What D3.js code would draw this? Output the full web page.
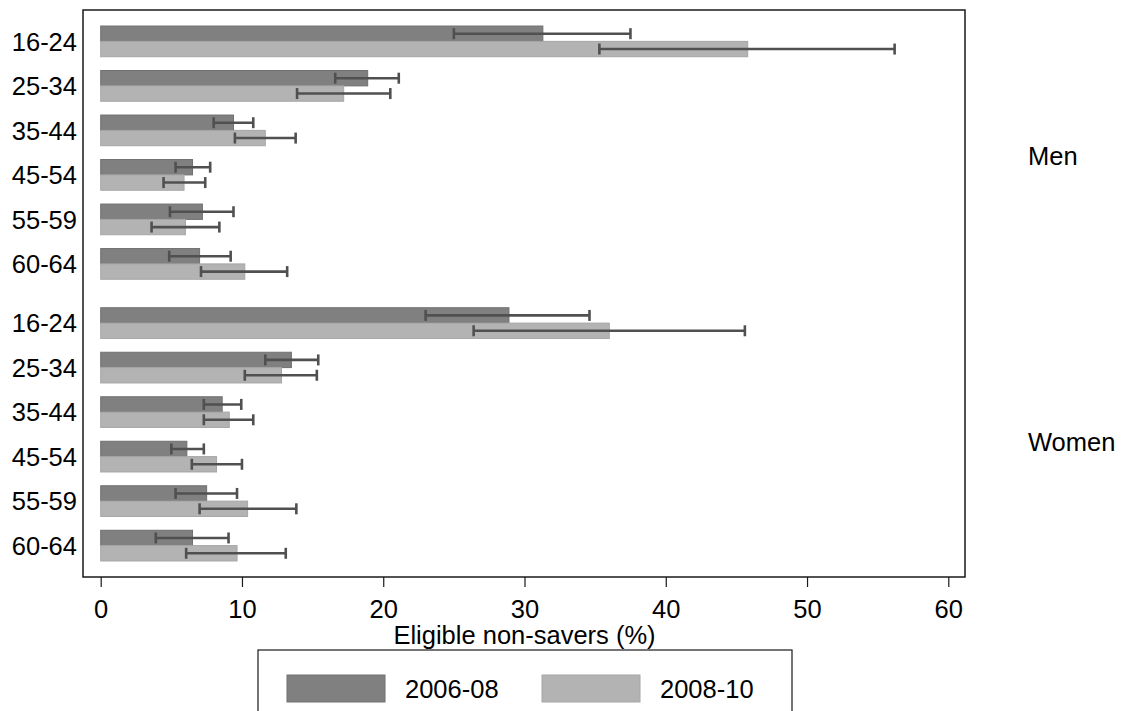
<!DOCTYPE html>
<html lang="en">
<head>
<meta charset="UTF-8">
<title>Eligible non-savers</title>
<script src="https://d3js.org/d3.v7.min.js"></script>
<style>
    body { margin: 0; background: #fff; }
    svg text { font-family: "Liberation Sans", Arial, sans-serif; fill: #000; }
</style>
</head>
<body>
<svg id="chart"></svg>
<script>
    var ageGroups = ["16-24", "25-34", "35-44", "45-54", "55-59", "60-64"];
    var sexes = ["Men", "Women"];
    var periods = ["2006-08", "2008-10"];
    var xTicks = [0, 10, 20, 30, 40, 50, 60];

    // point estimates and confidence bounds
    var menEarly   = [31.3, 18.9, 9.4, 6.5, 7.2, 7.0];
    var menEarlyLo = [25.0, 16.6, 8.0, 5.3, 4.9, 4.85];
    var menEarlyHi = [37.5, 21.1, 10.8, 7.75, 9.4, 9.2];
    var menLate    = [45.8, 17.2, 11.65, 5.9, 6.0, 10.2];
    var menLateLo  = [35.3, 13.9, 9.5, 4.45, 3.6, 7.1];
    var menLateHi  = [56.2, 20.5, 13.8, 7.4, 8.4, 13.2];
    var womenEarly   = [28.9, 13.5, 8.6, 6.1, 7.5, 6.5];
    var womenEarlyLo = [23.0, 11.65, 7.3, 5.0, 5.3, 3.9];
    var womenEarlyHi = [34.6, 15.4, 9.95, 7.3, 9.65, 9.05];
    var womenLate    = [36.0, 12.8, 9.1, 8.2, 10.4, 9.65];
    var womenLateLo  = [26.4, 10.2, 7.3, 6.45, 7.0, 6.05];
    var womenLateHi  = [45.6, 15.3, 10.8, 10.0, 13.85, 13.1];

    var W = 1123, H = 711;
    var frame = {left: 83, right: 965, top: 10, bottom: 577};
    var colors = ["#808080", "#b3b3b3"];
    var strokes = ["#707070", "#a6a6a6"];
    var fontSize = 25.5;

    var groupGap = 0.33;   // extra space between Men and Women blocks (in group units)
    var barFrac = 0.345;   // height of one bar (in group units)

    // build rows from the arrays
    var table = {
        Men:   [[menEarly, menEarlyLo, menEarlyHi], [menLate, menLateLo, menLateHi]],
        Women: [[womenEarly, womenEarlyLo, womenEarlyHi], [womenLate, womenLateLo, womenLateHi]]
    };
    var rows = [];
    sexes.forEach(function(s, si) {
        ageGroups.forEach(function(a, ai) {
            periods.forEach(function(p, pi) {
                var t = table[s][pi];
                rows.push({sex: s, age: a, period: pi, slot: si * (ageGroups.length + groupGap) + ai,
                           v: t[0][ai], lo: t[1][ai], hi: t[2][ai]});
            });
        });
    });

    var svg = d3.select("#chart").attr("width", W).attr("height", H);

    var x = d3.scaleLinear().domain([0, 60]).range([100.7, 948.3]);
    var lastSlot = ageGroups.length * 2 - 1 + groupGap;
    var y = d3.scaleLinear().domain([-0.36, lastSlot + 2 * barFrac + 0.36]).range([frame.top, frame.bottom]);
    var barH = y(barFrac) - y(0);

    // bars
    svg.append("g").selectAll("rect").data(rows).enter()
        .append("rect")
        .attr("x", x(0))
        .attr("y", function(d) { return y(d.slot + d.period * barFrac); })
        .attr("width", function(d) { return x(d.v) - x(0); })
        .attr("height", barH)
        .attr("fill", function(d) { return colors[d.period]; })
        .attr("stroke", function(d) { return strokes[d.period]; })
        .attr("stroke-width", 1);

    // error bars
    var err = svg.append("g").attr("stroke", "#505050").attr("stroke-width", 2.6).attr("fill", "none");
    rows.forEach(function(d) {
        var cy = y(d.slot + (d.period + 0.5) * barFrac);
        err.append("line").attr("x1", x(d.lo)).attr("x2", x(d.hi)).attr("y1", cy).attr("y2", cy);
        [d.lo, d.hi].forEach(function(v) {
            err.append("line").attr("x1", x(v)).attr("x2", x(v)).attr("y1", cy - 5.5).attr("y2", cy + 5.5);
        });
    });

    // frame
    svg.append("rect")
        .attr("x", frame.left).attr("y", frame.top)
        .attr("width", frame.right - frame.left).attr("height", frame.bottom - frame.top)
        .attr("fill", "none").attr("stroke", "#1a1a1a").attr("stroke-width", 1.5);

    // x axis
    var xAxis = svg.append("g")
        .attr("transform", "translate(0," + frame.bottom + ")")
        .call(d3.axisBottom(x).tickValues(xTicks).tickSize(10).tickPadding(13));
    xAxis.select(".domain").remove();
    xAxis.selectAll(".tick line").attr("stroke", "#1a1a1a").attr("stroke-width", 1.2);
    xAxis.selectAll(".tick text").style("font-size", fontSize + "px").attr("fill", "#000");

    svg.append("text")
        .attr("x", x(30)).attr("y", 644)
        .attr("text-anchor", "middle")
        .style("font-size", fontSize + "px")
        .text("Eligible non-savers (%)");

    // age labels
    svg.append("g").selectAll("text").data(rows.filter(function(d) { return d.period === 0; })).enter()
        .append("text")
        .attr("x", 77)
        .attr("y", function(d) { return y(d.slot + barFrac); })
        .attr("dy", "0.36em")
        .attr("text-anchor", "end")
        .style("font-size", fontSize + "px")
        .text(function(d) { return d.age; });

    // sex labels
    sexes.forEach(function(s, si) {
        var first = si * (ageGroups.length + groupGap);
        var mid = (y(first) + y(first + ageGroups.length - 1 + 2 * barFrac)) / 2;
        svg.append("text")
            .attr("x", 1028).attr("y", mid + (si === 1 ? 7 : 3))
            .attr("dy", "0.36em")
            .style("font-size", fontSize + "px")
            .text(s);
    });

    // legend
    var leg = svg.append("g");
    leg.append("rect")
        .attr("x", 258).attr("y", 650).attr("width", 534).attr("height", 80)
        .attr("fill", "#fff").attr("stroke", "#1a1a1a").attr("stroke-width", 1.2);
    var legX = [287, 542];
    periods.forEach(function(p, i) {
        leg.append("rect")
            .attr("x", legX[i]).attr("y", 675).attr("width", 98).attr("height", 27)
            .attr("fill", colors[i]).attr("stroke", strokes[i]);
        leg.append("text")
            .attr("x", legX[i] + 118).attr("y", 698)
            .style("font-size", fontSize + "px")
            .text(p);
    });
</script>
</body>
</html>
